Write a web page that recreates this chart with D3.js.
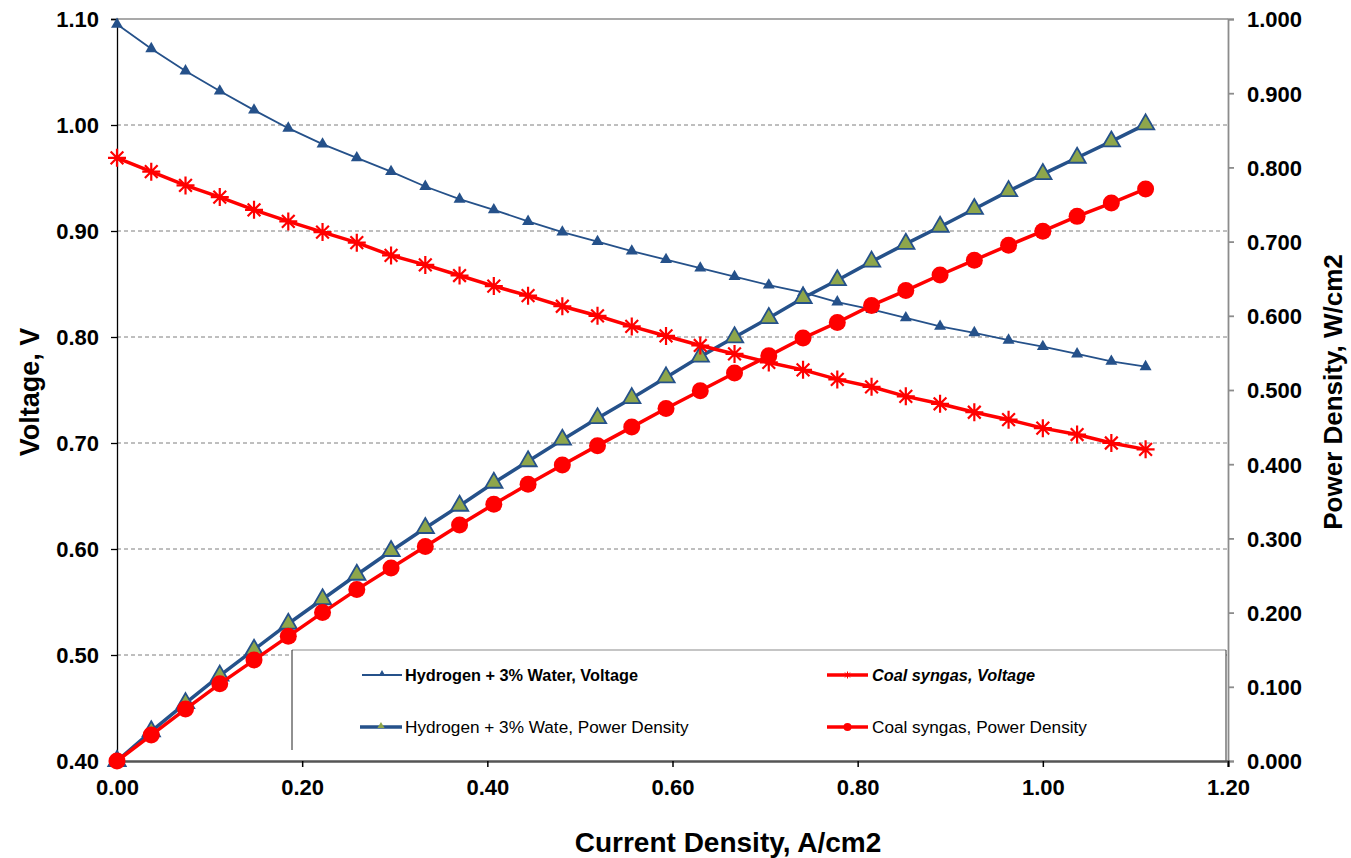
<!DOCTYPE html>
<html>
<head>
<meta charset="utf-8">
<script src="https://cdn.jsdelivr.net/npm/d3@7"></script>
<style>
    body { margin: 0; background: #fff; }
    svg text { font-family: Arial, 'Liberation Sans', sans-serif; fill: #000; }
</style>
</head>
<body>
<svg id="chart" width="1351" height="858"></svg>
<script>
// values
let current = [0, 0.037, 0.074, 0.111, 0.148, 0.185, 0.222, 0.259, 0.296, 0.333, 0.370,
    0.407, 0.444, 0.481, 0.519, 0.556, 0.593, 0.630, 0.667, 0.704, 0.741,
    0.778, 0.815, 0.852, 0.889, 0.926, 0.963, 1.000, 1.037, 1.074, 1.111]
let h2Voltage = [1.095, 1.072, 1.051, 1.032, 1.014, 0.997, 0.982, 0.969, 0.956, 0.942, 0.930,
    0.920, 0.909, 0.899, 0.890, 0.881, 0.873, 0.865, 0.857, 0.849, 0.842,
    0.833, 0.826, 0.818, 0.810, 0.804, 0.797, 0.791, 0.784, 0.777, 0.772]
let h2Power = [0, 0.040, 0.078, 0.115, 0.150, 0.185, 0.218, 0.251, 0.283, 0.314, 0.344,
    0.375, 0.404, 0.433, 0.462, 0.489, 0.517, 0.545, 0.571, 0.597, 0.624,
    0.648, 0.673, 0.697, 0.720, 0.744, 0.768, 0.791, 0.813, 0.835, 0.858]
let coalVoltage = [0.969, 0.956, 0.943, 0.932, 0.920, 0.909, 0.899, 0.889, 0.877, 0.868, 0.858,
    0.848, 0.839, 0.829, 0.820, 0.810, 0.801, 0.792, 0.784, 0.776, 0.769,
    0.760, 0.753, 0.744, 0.737, 0.729, 0.722, 0.714, 0.708, 0.700, 0.694]
let coalPower = [0, 0.035, 0.070, 0.104, 0.136, 0.168, 0.200, 0.231, 0.260, 0.289, 0.318,
    0.346, 0.373, 0.399, 0.425, 0.450, 0.475, 0.499, 0.523, 0.546, 0.570,
    0.591, 0.614, 0.634, 0.655, 0.675, 0.695, 0.714, 0.734, 0.752, 0.771]

let xTicks = [0, 0.2, 0.4, 0.6, 0.8, 1.0, 1.2]
let leftTicks = [0.4, 0.5, 0.6, 0.7, 0.8, 0.9, 1.0, 1.1]
let rightTicks = [0, 0.1, 0.2, 0.3, 0.4, 0.5, 0.6, 0.7, 0.8, 0.9, 1.0]

let navy = '#25518a'
let green = '#8ea64b'
let red = '#ff0000'

let chart = d3.select('#chart')
let plotLeft = 117, plotRight = 1228, plotTop = 19, plotBottom = 761

let xScale = d3.scaleLinear().domain([0, 1.2]).range([plotLeft, plotRight])
let yLeft = d3.scaleLinear().domain([0.4, 1.1]).range([plotBottom, plotTop])
let yRight = d3.scaleLinear().domain([0, 1]).range([plotBottom, plotTop])

// gridlines
chart.append('g')
    .selectAll('line')
    .data(leftTicks.filter((d) => d > 0.41 && d < 1.05))
    .enter()
    .append('line')
    .attr('x1', plotLeft).attr('x2', plotRight)
    .attr('y1', (d) => yLeft(d)).attr('y2', (d) => yLeft(d))
    .attr('stroke', '#7f7f7f')
    .attr('stroke-width', 1)
    .attr('stroke-dasharray', '4,3')

// top border
chart.append('line')
    .attr('x1', plotLeft).attr('x2', plotRight).attr('y1', plotTop).attr('y2', plotTop)
    .attr('stroke', '#8c8c8c').attr('stroke-width', 1.5)

// legend box (drawn under the data)
chart.append('rect')
    .attr('x', 292).attr('y', 650).attr('width', 934).attr('height', 110)
    .attr('fill', '#fff')
chart.append('line')
    .attr('x1', 292).attr('x2', 1226).attr('y1', 650).attr('y2', 650)
    .attr('stroke', '#8c8c8c').attr('stroke-width', 1.2)
chart.append('line')
    .attr('x1', 292).attr('x2', 292).attr('y1', 650).attr('y2', 750)
    .attr('stroke', '#222').attr('stroke-width', 1)
chart.append('line')
    .attr('x1', 1226).attr('x2', 1226).attr('y1', 650).attr('y2', 761)
    .attr('stroke', '#333').attr('stroke-width', 1)

// left axis
let axisLeft = d3.axisLeft(yLeft).tickValues(leftTicks).tickFormat(d3.format('.2f')).tickSize(6).tickPadding(12)
let gl = chart.append('g').attr('transform', 'translate(' + plotLeft + ',0)').call(axisLeft)
gl.select('.domain').attr('stroke', '#000').attr('stroke-width', 1.3)
gl.selectAll('.tick line').attr('stroke', '#000').attr('stroke-width', 1.3)
gl.selectAll('text').attr('font-size', 22).attr('font-weight', 'bold').attr('dy', '0.36em')

// right axis
let axisRight = d3.axisRight(yRight).tickValues(rightTicks).tickFormat(d3.format('.3f')).tickSize(6).tickPadding(13)
let gr = chart.append('g').attr('transform', 'translate(' + plotRight + ',0)').call(axisRight)
gr.select('.domain').attr('stroke', '#8c8c8c').attr('stroke-width', 1.8)
gr.selectAll('.tick line').attr('stroke', '#8c8c8c').attr('stroke-width', 1.8)
gr.selectAll('text').attr('font-size', 22).attr('font-weight', 'bold').attr('dy', '0.36em')

// bottom axis
let axisBottom = d3.axisBottom(xScale).tickValues(xTicks).tickFormat(d3.format('.2f')).tickSize(6).tickPadding(12)
let gb = chart.append('g').attr('transform', 'translate(0,' + plotBottom + ')').call(axisBottom)
gb.select('.domain').attr('stroke', '#555').attr('stroke-width', 2.5)
gb.selectAll('.tick line').attr('stroke', '#000').attr('stroke-width', 1.5)
gb.selectAll('text').attr('font-size', 22).attr('font-weight', 'bold')

// axis titles
chart.append('text')
    .attr('transform', 'translate(39,392) rotate(-90)')
    .attr('text-anchor', 'middle')
    .attr('font-size', 27).attr('font-weight', 'bold')
    .text('Voltage, V')
chart.append('text')
    .attr('transform', 'translate(1342,392) rotate(-90)')
    .attr('text-anchor', 'middle')
    .attr('font-size', 26).attr('font-weight', 'bold')
    .text('Power Density, W/cm2')
chart.append('text')
    .attr('x', 728).attr('y', 852)
    .attr('text-anchor', 'middle')
    .attr('font-size', 28).attr('font-weight', 'bold')
    .text('Current Density, A/cm2')

let lineOf = (ys, yScale) => d3.line()
    .x((d, i) => xScale(current[i]))
    .y((d) => yScale(d))(ys)

let starPath = (r) => {
    let p = ''
    for (let k = 0; k < 4; k++) {
        let a = k * Math.PI / 4
        let dx = r * Math.cos(a), dy = r * Math.sin(a)
        p += 'M' + (-dx) + ',' + (-dy) + 'L' + dx + ',' + dy
    }
    return p
}

// Hydrogen voltage
chart.append('path')
    .attr('d', lineOf(h2Voltage, yLeft))
    .attr('fill', 'none').attr('stroke', navy).attr('stroke-width', 1.8)
chart.append('g')
    .selectAll('path')
    .data(h2Voltage)
    .enter()
    .append('path')
    .attr('d', d3.symbol(d3.symbolTriangle, 62))
    .attr('transform', (d, i) => 'translate(' + xScale(current[i]) + ',' + yLeft(d) + ')')
    .attr('fill', navy)

// Hydrogen power
chart.append('path')
    .attr('d', lineOf(h2Power, yRight))
    .attr('fill', 'none').attr('stroke', navy).attr('stroke-width', 3.5)
chart.append('g')
    .selectAll('path')
    .data(h2Power)
    .enter()
    .append('path')
    .attr('d', d3.symbol(d3.symbolTriangle, 130))
    .attr('transform', (d, i) => 'translate(' + xScale(current[i]) + ',' + yRight(d) + ')')
    .attr('fill', green).attr('stroke', navy).attr('stroke-width', 1.8)

// Coal voltage
chart.append('path')
    .attr('d', lineOf(coalVoltage, yLeft))
    .attr('fill', 'none').attr('stroke', red).attr('stroke-width', 3.5)
chart.append('g')
    .selectAll('path')
    .data(coalVoltage)
    .enter()
    .append('path')
    .attr('d', starPath(9))
    .attr('transform', (d, i) => 'translate(' + xScale(current[i]) + ',' + yLeft(d) + ')')
    .attr('fill', 'none').attr('stroke', red).attr('stroke-width', 2.2)

// Coal power
chart.append('path')
    .attr('d', lineOf(coalPower, yRight))
    .attr('fill', 'none').attr('stroke', red).attr('stroke-width', 3.5)
chart.append('g')
    .selectAll('circle')
    .data(coalPower)
    .enter()
    .append('circle')
    .attr('cx', (d, i) => xScale(current[i]))
    .attr('cy', (d) => yRight(d))
    .attr('r', 8.5)
    .attr('fill', red)

// legend entries
let legend = chart.append('g')
let legendItems = [
    { x: 362, y: 675, label: 'Hydrogen + 3% Water, Voltage', color: navy, width: 1.8, mark: 'tri', weight: 'bold', style: 'normal', size: 16.3 },
    { x: 827, y: 675, label: 'Coal syngas, Voltage', color: red, width: 3.5, mark: 'star', weight: 'bold', style: 'italic', size: 16.3 },
    { x: 360, y: 727, label: 'Hydrogen + 3% Wate, Power Density', color: navy, width: 3.5, mark: 'gtri', weight: 'normal', style: 'normal', size: 17.2 },
    { x: 827, y: 727, label: 'Coal syngas, Power Density', color: red, width: 3.5, mark: 'dot', weight: 'normal', style: 'normal', size: 17.2 }
]
legendItems.forEach((it) => {
    let g = legend.append('g')
    let x2 = it.x > 800 ? 868 : 402
    g.append('line')
        .attr('x1', it.x).attr('x2', x2)
        .attr('y1', it.y).attr('y2', it.y)
        .attr('stroke', it.color).attr('stroke-width', it.width)
    let cx = (it.x + x2) / 2
    if (it.mark == 'tri') {
        g.append('path').attr('d', d3.symbol(d3.symbolTriangle, 20))
            .attr('transform', 'translate(' + cx + ',' + (it.y - 1) + ')').attr('fill', it.color)
    } else if (it.mark == 'gtri') {
        g.append('path').attr('d', d3.symbol(d3.symbolTriangle, 22))
            .attr('transform', 'translate(' + cx + ',' + (it.y - 1) + ')').attr('fill', green)
    } else if (it.mark == 'star') {
        g.append('path').attr('d', starPath(3.5))
            .attr('transform', 'translate(' + cx + ',' + it.y + ')').attr('stroke', it.color).attr('stroke-width', 1)
    } else {
        g.append('circle').attr('cx', cx).attr('cy', it.y).attr('r', 4).attr('fill', it.color)
    }
    g.append('text')
        .attr('x', it.x > 800 ? 872 : 405)
        .attr('y', it.y + 6)
        .attr('font-size', it.size)
        .attr('font-weight', it.weight)
        .attr('font-style', it.style)
        .text(it.label)
})
</script>
</body>
</html>
